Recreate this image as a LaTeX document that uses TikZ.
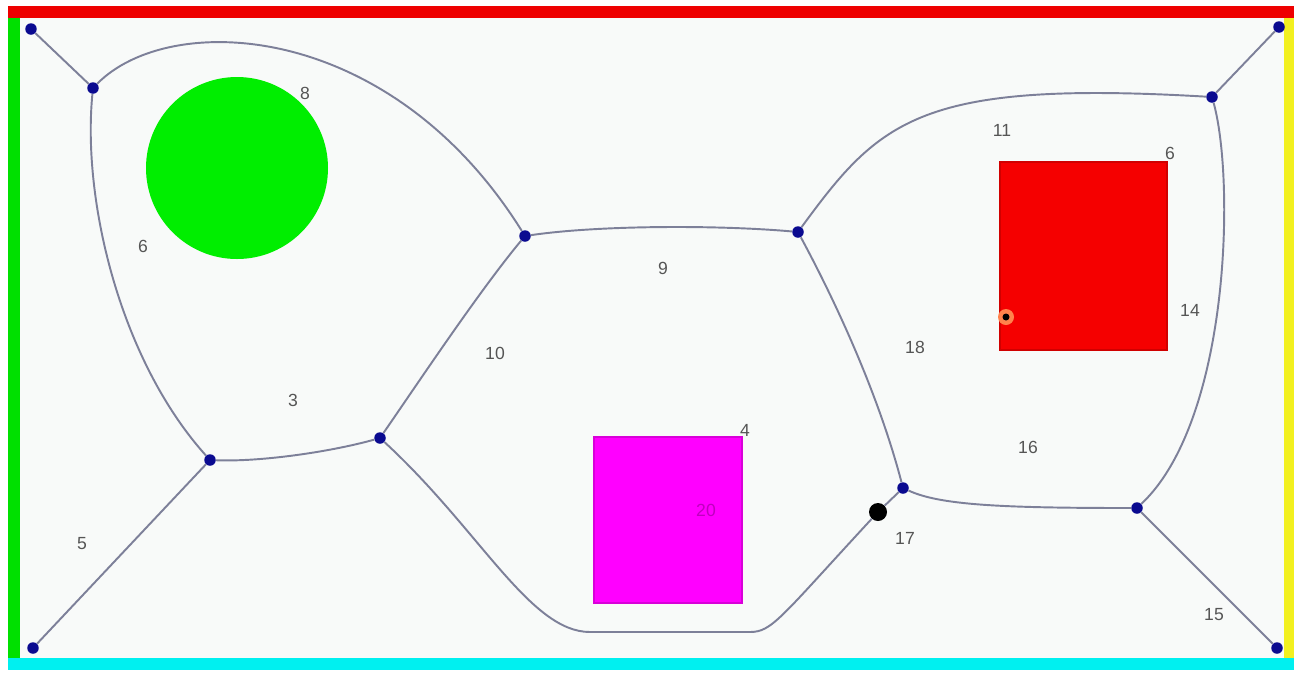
\documentclass[tikz,border=0pt]{standalone}
\usepackage{fontspec}
\setmainfont{Liberation Sans}
\usepackage{xcolor}
\usepackage{tikz}
\definecolor{paper}{HTML}{F8FAF9}
\definecolor{wall}{HTML}{EE0000}
\definecolor{leftwall}{HTML}{00E000}
\definecolor{floorwall}{HTML}{00F0F0}
\definecolor{rightwall}{HTML}{F2F020}
\definecolor{edgecol}{HTML}{7D8099}
\definecolor{vtxcol}{HTML}{0A0A90}
\definecolor{disc}{HTML}{00EE00}
\definecolor{blockA}{HTML}{F50000}
\definecolor{blockB}{HTML}{FF00FF}
\definecolor{lblcol}{HTML}{555555}
\tikzset{
  vtx/.style={circle,fill=vtxcol,inner sep=0pt,minimum size=0.23cm},
  edge/.style={draw=edgecol,line width=1.1pt},
  lbl/.style={text=lblcol,font=\fontsize{10}{12}\selectfont,inner sep=0pt}
}

\begin{document}
\begin{tikzpicture}[x=0.02cm,y=-0.02cm]
      \useasboundingbox (0,0) rectangle (1294,674);
      \fill[white] (0,0) rectangle (1294,674);
      \fill[paper] (20,18) rectangle (1284,658);
      % walls
      \fill[wall] (8,6) rectangle (1294,18);
      \fill[leftwall] (8,18) rectangle (20,660);
      \fill[floorwall] (8,658) rectangle (1294,670);
      \fill[rightwall] (1284,18) rectangle (1294,658);
      % obstacles
      \fill[disc] (237,168) circle (91);
      \filldraw[fill=blockA,draw=blockA!85!black,line width=0.6pt] (1000,162) rectangle (1167,350);
      \filldraw[fill=blockB,draw=blockB!85!black,line width=0.6pt] (594,437) rectangle (742,603);
      \fill[orange!60!red!70] (1006,317) circle (8);
      \fill[black] (1006,317) circle (3.5);
      % graph vertices
      \node[vtx] (a) at (31,29) {};
      \node[vtx] (b) at (93,88) {};
      \node[vtx] (c) at (525,236) {};
      \node[vtx] (d) at (798,232) {};
      \node[vtx] (e) at (1212,97) {};
      \node[vtx] (f) at (1279,27) {};
      \node[vtx] (g) at (210,460) {};
      \node[vtx] (h) at (380,438) {};
      \node[vtx] (i) at (903,488) {};
      \node[vtx] (j) at (1137,508) {};
      \node[vtx] (k) at (33,648) {};
      \node[vtx] (l) at (1277,648) {};
      \node[circle,fill=black,inner sep=0pt,minimum size=0.36cm] (q) at (878,512) {};
      % graph edges
      \draw[edge] (a) -- (b);
      \draw[edge] (e) -- (f);
      \draw[edge] (g) -- (k);
      \draw[edge] (j) -- (l);
      \draw[edge] (q) -- (i);
      \draw[edge] (b) .. controls (170,10) and (390,20) .. (c);
      \draw[edge] (b) .. controls (82,200) and (120,360) .. (g);
      \draw[edge] (g) .. controls (260,462) and (330,452) .. (h);
      \draw[edge] (h) .. controls (420,380) and (480,290) .. (c);
      \draw[edge] (c) .. controls (600,225) and (720,225) .. (d);
      \draw[edge] (d) .. controls (880,120) and (920,80) .. (e);
      \draw[edge] (e) .. controls (1235,180) and (1230,420) .. (j);
      \draw[edge] (d) .. controls (840,310) and (880,400) .. (i);
      \draw[edge] (i) .. controls (940,505) and (1000,508) .. (j);
      \draw[edge] (h) .. controls (480,530) and (530,632) .. (590,632)
                 -- (750,632) .. controls (772,632) and (780,618) .. (q);
      % region labels
      \node[lbl] (t8) at (305,93) {8};
      \node[lbl] (t6a) at (143,246) {6};
      \node[lbl] (t3) at (293,400) {3};
      \node[lbl] (t5) at (82,544) {5};
      \node[lbl] (t10) at (495,353) {10};
      \node[lbl] (t9) at (663,268) {9};
      \node[lbl] (t4) at (745,430) {4};
      \node[lbl,text=blockB!75!black] (t20) at (706,510) {20};
      \node[lbl] (t11) at (1002,130) {11};
      \node[lbl] (t6b) at (1170,153) {6};
      \node[lbl] (t14) at (1190,310) {14};
      \node[lbl] (t18) at (915,347) {18};
      \node[lbl] (t16) at (1028,447) {16};
      \node[lbl] (t17) at (905,538) {17};
      \node[lbl] (t15) at (1214,615) {15};
    \end{tikzpicture}
\end{document}
